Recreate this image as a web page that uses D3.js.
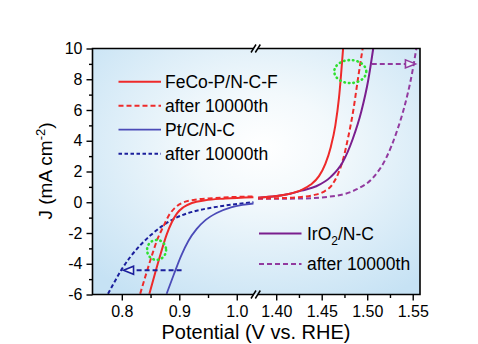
<!DOCTYPE html>
<html>
<head>
<meta charset="utf-8">
<script src="https://cdn.jsdelivr.net/npm/d3@7"></script>
<style>
  body { margin: 0; background: #fff; }
  svg { display: block; font-family: "Liberation Sans", Arial, sans-serif; }
</style>
</head>
<body>
<svg id="chart" width="478" height="344"></svg>
<script>
// ORR side (left panel), potential in V vs RHE, J in mA cm-2
const fecoV = [0.848, 0.858, 0.868, 0.878, 0.887, 0.896, 0.907, 0.922, 0.945, 0.980, 1.029];
const fecoJ = [-5.95, -4.6, -3.3, -2.1, -1.3, -0.72, -0.33, -0.05, 0.13, 0.24, 0.33];
const fecoAfterV = [0.832, 0.842, 0.852, 0.862, 0.872, 0.882, 0.892, 0.905, 0.925, 0.960, 1.029];
const fecoAfterJ = [-5.95, -4.7, -3.5, -2.4, -1.6, -0.85, -0.38, -0.05, 0.15, 0.27, 0.38];
const ptV = [0.878, 0.890, 0.903, 0.916, 0.930, 0.946, 0.965, 0.990, 1.010, 1.029];
const ptJ = [-5.95, -4.75, -3.5, -2.5, -1.75, -1.15, -0.7, -0.33, -0.17, -0.08];
const ptAfterV = [0.776, 0.787, 0.800, 0.815, 0.832, 0.850, 0.870, 0.895, 0.925, 0.965, 1.029];
const ptAfterJ = [-5.95, -5.2, -4.35, -3.55, -2.8, -2.15, -1.55, -1.0, -0.6, -0.3, 0.0];

// OER side (right panel)
const fecoOerV = [1.380, 1.400, 1.415, 1.428, 1.438, 1.447, 1.454, 1.460, 1.465, 1.469, 1.4735];
const fecoOerJ = [0.30, 0.40, 0.55, 0.80, 1.15, 1.70, 2.5, 3.6, 5.0, 6.8, 10.0];
const fecoOerAfterV = [1.380, 1.405, 1.425, 1.440, 1.452, 1.461, 1.468, 1.474, 1.479, 1.4845, 1.490, 1.495];
const fecoOerAfterJ = [0.24, 0.27, 0.33, 0.45, 0.68, 1.1, 1.85, 2.9, 4.2, 5.9, 8.1, 10.0];
const iroV = [1.380, 1.400, 1.415, 1.428, 1.444, 1.460, 1.473, 1.484, 1.4935, 1.501, 1.5066];
const iroJ = [0.30, 0.40, 0.55, 0.76, 1.04, 1.65, 2.6, 4.1, 5.9, 7.9, 10.0];
const iroAfterV = [1.380, 1.425, 1.462, 1.488, 1.5065, 1.521, 1.5325, 1.5415, 1.549, 1.554];
const iroAfterJ = [0.22, 0.24, 0.39, 0.83, 1.6, 2.9, 4.6, 6.35, 8.3, 10.0];

// annotations (data coords)
const orrArrow = { from: 0.904, to: 0.803, j: -4.42 };
const oerArrow = { from: 1.505, to: 1.553, j: 9.0 };
const orrCircle = { v: 0.8605, j: -3.1 };
const oerCircle = { v: 1.4814, j: 8.5 };

// ticks
const yMajor = [-6, -4, -2, 0, 2, 4, 6, 8, 10];
const yMinor = [-5, -3, -1, 1, 3, 5, 7, 9];
const xLeftMajor = [0.8, 0.9, 1.0];
const xLeftLabels = ["0.8", "0.9", "1.0"];
const xLeftMinor = [0.85, 0.95];
const xRightMajor = [1.40, 1.45, 1.50, 1.55];
const xRightLabels = ["1.40", "1.45", "1.50", "1.55"];
const xRightMinor = [1.425, 1.475, 1.525];

const legendTop = ["FeCo-P/N-C-F", "after 10000th", "Pt/C/N-C", "after 10000th"];
const legendBottom = ["IrO2/N-C", "after 10000th"];

const RED = "#ee2a2a", BLUE = "#4b4bb8", NAVY = "#1b1f9c", PURPLE = "#7a1e8e", PURPLE2 = "#923a9f", GREEN = "#2fe02f";

const svg = d3.select("#chart");
const pTop = 48.5, pBottom = 294.5, pLeft = 92.5, pRight = 420, breakL = 254, breakR = 258;

const xL = d3.scaleLinear().domain([0.749, 1.03]).range([pLeft, breakL]);
const xR = d3.scaleLinear().domain([1.38, 1.558]).range([breakR, pRight]);
const y = d3.scaleLinear().domain([-6, 10]).range([pBottom, pTop]);

// background gradient
const defs = svg.append("defs");
const grad = defs.append("radialGradient").attr("id", "bg")
    .attr("cx", "52%").attr("cy", "40%").attr("r", "72%");
grad.append("stop").attr("offset", "0").attr("stop-color", "#ffffff");
grad.append("stop").attr("offset", "0.3").attr("stop-color", "#f3f9fc");
grad.append("stop").attr("offset", "1").attr("stop-color", "#c6e2f4");
svg.append("rect").attr("x", pLeft).attr("y", pTop)
    .attr("width", pRight - pLeft).attr("height", pBottom - pTop)
    .attr("fill", "url(#bg)");

defs.append("clipPath").attr("id", "clipL").append("rect")
    .attr("x", pLeft).attr("y", pTop).attr("width", breakL - pLeft).attr("height", pBottom - pTop);
defs.append("clipPath").attr("id", "clipR").append("rect")
    .attr("x", breakR).attr("y", pTop).attr("width", pRight - breakR).attr("height", pBottom - pTop);

function drawCurve(xs, js, xScale, clip, color, width, dash) {
    const pts = xs.map((v, i) => [v, js[i]]);
    const line = d3.line().x(d => xScale(d[0])).y(d => y(d[1])).curve(d3.curveMonotoneX);
    svg.append("path")
        .datum(pts)
        .attr("clip-path", `url(#${clip})`)
        .attr("fill", "none")
        .attr("stroke", color)
        .attr("stroke-width", width)
        .attr("stroke-dasharray", dash)
        .attr("d", line);
}

drawCurve(ptAfterV, ptAfterJ, xL, "clipL", NAVY, 2, "4,2.5");
drawCurve(ptV, ptJ, xL, "clipL", BLUE, 1.8, null);
drawCurve(fecoAfterV, fecoAfterJ, xL, "clipL", RED, 2, "5,3");
drawCurve(fecoV, fecoJ, xL, "clipL", RED, 2, null);

drawCurve(iroAfterV, iroAfterJ, xR, "clipR", PURPLE2, 2, "5,3");
drawCurve(fecoOerAfterV, fecoOerAfterJ, xR, "clipR", RED, 2, "5,3");
drawCurve(iroV, iroJ, xR, "clipR", PURPLE, 2, null);
drawCurve(fecoOerV, fecoOerJ, xR, "clipR", RED, 2, null);

// arrows
function drawArrow(a, xScale, color) {
    const x1 = xScale(a.from), x2 = xScale(a.to), yy = y(a.j);
    const dir = Math.sign(x2 - x1);
    svg.append("line")
        .attr("x1", x1).attr("x2", x2 - dir * 4).attr("y1", yy).attr("y2", yy)
        .attr("stroke", color).attr("stroke-width", 2).attr("stroke-dasharray", "5,3");
    svg.append("path")
        .attr("d", `M${x2},${yy} L${x2 - dir * 10},${yy - 4} L${x2 - dir * 10},${yy + 4} Z`)
        .attr("fill", "#e8f3fa").attr("stroke", color).attr("stroke-width", 1.6);
}
drawArrow(orrArrow, xL, NAVY);
drawArrow(oerArrow, xR, PURPLE2);

// green dotted circles
svg.append("ellipse")
    .attr("cx", xL(orrCircle.v)).attr("cy", y(orrCircle.j)).attr("rx", 9.5).attr("ry", 10)
    .attr("fill", "none").attr("stroke", GREEN).attr("stroke-width", 2.6)
    .attr("stroke-linecap", "round").attr("stroke-dasharray", "0.5,4");
svg.append("ellipse")
    .attr("cx", xR(oerCircle.v)).attr("cy", y(oerCircle.j)).attr("rx", 16).attr("ry", 11.5)
    .attr("fill", "none").attr("stroke", GREEN).attr("stroke-width", 2.6)
    .attr("stroke-linecap", "round").attr("stroke-dasharray", "0.5,4");

// axes
function styleAxis(g) {
    g.select(".domain").remove();
    g.selectAll("line").attr("stroke", "#000").attr("stroke-width", 1.4);
    g.selectAll("text").attr("font-size", "16px").attr("fill", "#000")
        .attr("font-family", "Liberation Sans, Arial, sans-serif");
}

svg.append("g").attr("transform", `translate(${pLeft},0)`)
    .call(d3.axisLeft(y).tickValues(yMajor).tickSize(6).tickPadding(4).tickFormat(d => String(d)))
    .call(styleAxis);
svg.append("g").attr("transform", `translate(${pLeft},0)`)
    .call(d3.axisLeft(y).tickValues(yMinor).tickSize(3.5).tickFormat(""))
    .call(styleAxis);

svg.append("g").attr("transform", `translate(0,${pBottom})`)
    .call(d3.axisBottom(xL).tickValues(xLeftMajor).tickSize(6).tickPadding(5)
        .tickFormat((d, i) => xLeftLabels[i]))
    .call(styleAxis);
svg.append("g").attr("transform", `translate(0,${pBottom})`)
    .call(d3.axisBottom(xL).tickValues(xLeftMinor).tickSize(3.5).tickFormat(""))
    .call(styleAxis);
svg.append("g").attr("transform", `translate(0,${pBottom})`)
    .call(d3.axisBottom(xR).tickValues(xRightMajor).tickSize(6).tickPadding(5)
        .tickFormat((d, i) => xRightLabels[i]))
    .call(styleAxis);
svg.append("g").attr("transform", `translate(0,${pBottom})`)
    .call(d3.axisBottom(xR).tickValues(xRightMinor).tickSize(3.5).tickFormat(""))
    .call(styleAxis);

// frame with axis break
const frame = svg.append("g").attr("fill", "none").attr("stroke", "#000").attr("stroke-width", 1.6);
frame.append("path").attr("d",
    `M${breakL},${pTop} H${pLeft} V${pBottom} H${breakL} M${breakR},${pTop} H${pRight} V${pBottom} H${breakR}`);
for (const yy of [pTop, pBottom]) {
    for (const dx of [-2.5, 1.8]) {
        const cx = (breakL + breakR) / 2 + dx;
        frame.append("line")
            .attr("x1", cx - 2.5).attr("y1", yy + 4).attr("x2", cx + 2.5).attr("y2", yy - 4)
            .attr("stroke-width", 1.5);
    }
}

// axis titles
svg.append("text").attr("x", 256).attr("y", 339).attr("text-anchor", "middle")
    .attr("font-size", "20px").text("Potential (V vs. RHE)");
const yl = svg.append("text").attr("transform", "translate(51.5,171) rotate(-90)")
    .attr("text-anchor", "middle").attr("font-size", "19px");
yl.append("tspan").text("J (mA cm");
yl.append("tspan").attr("font-size", "13px").attr("dy", "-7").text("-2");
yl.append("tspan").attr("dy", "7").text(")");

// legends
const topStyles = [
    { color: RED, width: 2, dash: null },
    { color: RED, width: 2, dash: "5,3" },
    { color: BLUE, width: 1.8, dash: null },
    { color: NAVY, width: 2, dash: "3.5,2.5" }
];
legendTop.forEach((label, i) => {
    const ly = 81.7 + i * 24;
    svg.append("line").attr("x1", 118.5).attr("x2", 161).attr("y1", ly).attr("y2", ly)
        .attr("stroke", topStyles[i].color).attr("stroke-width", topStyles[i].width)
        .attr("stroke-dasharray", topStyles[i].dash);
    svg.append("text").attr("x", 165).attr("y", ly).attr("dy", "0.36em")
        .attr("font-size", "17.5px").text(label);
});

const botStyles = [
    { color: PURPLE, width: 2, dash: null },
    { color: PURPLE2, width: 2, dash: "5,3" }
];
legendBottom.forEach((label, i) => {
    const ly = 233.5 + i * 30.5;
    svg.append("line").attr("x1", 259).attr("x2", 301.5).attr("y1", ly).attr("y2", ly)
        .attr("stroke", botStyles[i].color).attr("stroke-width", botStyles[i].width)
        .attr("stroke-dasharray", botStyles[i].dash);
    const t = svg.append("text").attr("x", 307).attr("y", ly).attr("dy", "0.36em")
        .attr("font-size", "17.5px");
    if (label.startsWith("IrO2")) {
        t.append("tspan").text("IrO");
        t.append("tspan").attr("font-size", "12px").attr("dy", "5").text("2");
        t.append("tspan").attr("dy", "-5").text(label.slice(4));
    } else {
        t.text(label);
    }
});
</script>
</body>
</html>
